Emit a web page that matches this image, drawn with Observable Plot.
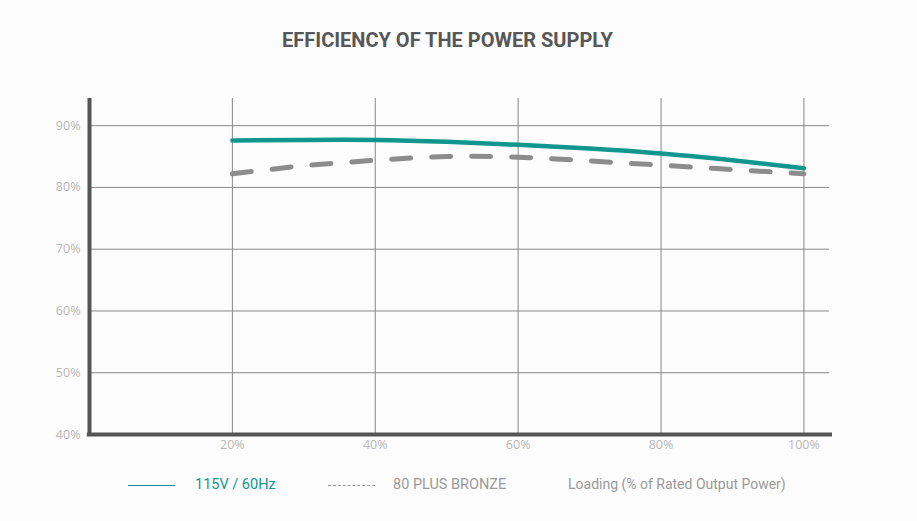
<!DOCTYPE html>
<html><head><meta charset="utf-8">
<script src="https://cdn.jsdelivr.net/npm/d3@7"></script>
<script src="https://cdn.jsdelivr.net/npm/@observablehq/plot@0.6"></script>
<style>
body{margin:0;background:#fcfcfc;font-family:Roboto,sans-serif;}
#wrap{position:relative;width:917px;height:521px;}
#title{position:absolute;left:-22px;top:28px;width:939px;text-align:center;font-family:Roboto;font-weight:700;font-size:20px;color:#575757;}
#chart{position:absolute;left:0;top:80px;}
.leg{position:absolute;top:476px;font-size:14.5px;font-family:Roboto;}
.leg span{display:inline-block;transform-origin:left;}
</style></head><body>
<div id="wrap">
<div id="title"><span>EFFICIENCY OF THE POWER SUPPLY</span></div>
<div id="chart"></div>
<div class="leg" style="left:128px;top:485px;width:47px;border-top:1.5px solid #11968f;"></div>
<div class="leg" style="left:195px;color:#11968f;"><span>115V / 60Hz</span></div>
<div class="leg" style="left:328px;top:485px;width:47px;border-top:1px dashed #999;"></div>
<div class="leg" style="left:393px;color:#9a9a9a;"><span>80 PLUS BRONZE</span></div>
<div class="leg" style="left:568px;color:#9a9a9a;"><span style="transform:scaleX(0.965)">Loading (% of Rated Output Power)</span></div>
</div>
<script>
const loadPct = [20, 30, 40, 50, 60, 70, 80, 90, 100];
const eff115 = [87.6, 87.7, 87.7, 87.4, 86.9, 86.3, 85.5, 84.4, 83.1];
const effBronze = [82.2, 83.5, 84.4, 85.0, 84.9, 84.3, 83.6, 82.9, 82.2];
const xTicks = [20, 40, 60, 80, 100];
const yTicks = [40, 50, 60, 70, 80, 90];

const s115 = loadPct.map((x, i) => ({x, y: eff115[i]}));
const sBronze = loadPct.map((x, i) => ({x, y: effBronze[i]}));

const chart = Plot.plot({
  width: 917, height: 380,
  marginTop: 18, marginBottom: 26, marginLeft: 89, marginRight: 85,
  style: {background: "transparent", fontFamily: "'Open Sans'", fontSize: "12.5px", color: "#b8b8b8"},
  x: {domain: [0, 104]},
  y: {domain: [40, 94.4]},
  marks: [
    Plot.ruleY(yTicks.filter(d => d > 40), {x1: 0, x2: 103.6, stroke: "#888", strokeWidth: 1, strokeOpacity: 1}),
    Plot.ruleX(xTicks, {y1: 40, y2: 94.4, stroke: "#888", strokeWidth: 1}),
    Plot.axisY({ticks: yTicks, tickSize: 0, tickPadding: 9, tickFormat: d => d + "%", label: null, fill: "#b8b8b8"}),
    Plot.axisX({ticks: xTicks, tickSize: 0, tickPadding: 6, tickFormat: d => d + "%", label: null, fill: "#b8b8b8"}),
    Plot.line(sBronze, {x: "x", y: "y", curve: "natural", stroke: "#8c8c8c", strokeWidth: 5, strokeDasharray: "19,21"}),
    Plot.line(s115, {x: "x", y: "y", curve: "natural", stroke: "#11968f", strokeWidth: 4.5}),
    Plot.ruleX([0], {y1: 40, y2: 94.4, stroke: "#555", strokeWidth: 4}),
    Plot.ruleY([40], {x1: -0.3, x2: 104, stroke: "#555", strokeWidth: 4})
  ]
});
document.getElementById("chart").appendChild(chart);
</script>
</body></html>
